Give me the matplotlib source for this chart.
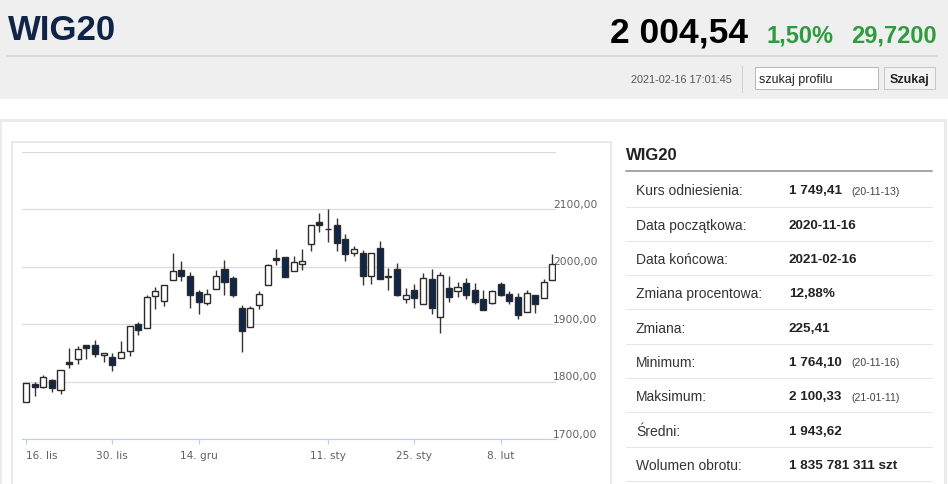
import numpy as np
import matplotlib
matplotlib.use("Agg")
import matplotlib.pyplot as plt
from matplotlib.patches import Rectangle

plt.rcParams['font.family'] = ['Liberation Sans', 'DejaVu Sans']

W, H = 948, 485
PX = 0.72  # points per pixel at dpi 100

# ── Data (WIG20 daily OHLC, 2020-11-16 .. 2021-02-16) ───────────
opens = [1765, 1796, 1791, 1802, 1786, 1834, 1840, 1864, 1864, 1846,
         1843, 1841, 1853, 1900, 1893, 1948, 1940, 1976, 1994, 1984,
         1955, 1937, 1961, 1996, 1980, 1928, 1894, 1933, 1968, 2014,
         2017, 1993, 2004, 2039, 2078, 2066, 2072, 2048, 2023, 2024,
         1984, 2032, 1983, 1996, 1944, 1960, 1934, 1979, 1913, 1963,
         1958, 1972, 1960, 1944, 1936, 1969, 1953, 1947, 1921, 1950,
         1946, 1977]
highs = [1798, 1800, 1812, 1805, 1820, 1859, 1861, 1864, 1872, 1850,
         1850, 1870, 1897, 1904, 1950, 1964, 1968, 2024, 2009, 1991,
         1960, 1961, 1994, 2012, 1983, 1933, 1931, 1958, 2005, 2031,
         2017, 2018, 2030, 2072, 2093, 2100.3, 2085, 2056, 2036, 2028,
         2023, 2045, 1998, 2006, 1963, 1969, 1988, 1996, 1991, 1984,
         1973, 1980, 1972, 1960, 1960, 1973, 1957, 1954, 1960, 1950,
         1979, 2022]
lows = [1764.1, 1774, 1788, 1782, 1779, 1823, 1831, 1840, 1843, 1834,
        1818, 1841, 1844, 1881, 1893, 1926, 1932, 1976, 1975, 1928,
        1917, 1933, 1961, 1950, 1947, 1851, 1894, 1926, 1968, 2003,
        1982, 1993, 1994, 2027, 2060, 2042, 2027, 2009, 2018, 1968,
        1970, 1979, 1960, 1948, 1936, 1927, 1934, 1917, 1885, 1938,
        1947, 1943, 1934, 1925, 1934, 1948, 1934, 1909, 1921, 1920,
        1946, 1977]
closes = [1797, 1791, 1808, 1788, 1820, 1831, 1857, 1859, 1848, 1850,
          1828, 1851, 1896, 1889, 1947, 1957, 1968, 1993, 1983, 1950,
          1939, 1953, 1983, 1973, 1951, 1888, 1928, 1952, 2003, 2012,
          1982, 2007, 2009, 2072, 2072, 2065, 2041, 2021, 2030, 1984,
          2023, 1979, 1982, 1951, 1951, 1945, 1980, 1928, 1985, 1947,
          1965, 1951, 1938, 1925, 1957, 1950, 1940, 1916, 1954, 1935,
          1973, 2004.5]

tick_idx = [0, 10, 20, 35, 45, 55]
tick_lbl = ['16. lis', '30. lis', '14. gru', '11. sty', '25. sty', '8. lut']
y_levels = [1700, 1800, 1900, 2000, 2100, 2200]

info_labels = ['Kurs odniesienia:', 'Data początkowa:', 'Data końcowa:',
               'Zmiana procentowa:', 'Zmiana:', 'Minimum:', 'Maksimum:',
               'Średni:', 'Wolumen obrotu:']
info_values = ['1 749,41', '2020-11-16', '2021-02-16', '12,88%', '225,41',
               '1 764,10', '2 100,33', '1 943,62', '1 835 781 311 szt']
info_dates = ['(20-11-13)', '', '', '', '', '(20-11-16)', '(21-01-11)', '', '']

# ── Page ────────────────────────────────────────────────────────
fig = plt.figure(figsize=(W / 100, H / 100), dpi=100)
page = fig.add_axes([0, 0, 1, 1])
page.set_xlim(0, W)
page.set_ylim(H, 0)
page.axis('off')

# header
page.add_patch(Rectangle((0, 0), W, 100, facecolor='#efefef', edgecolor='none'))
page.plot([7, 937], [57, 57], color='#d4d4d4', lw=1.5 * PX)
page.text(8, 40, 'WIG20', fontsize=25, fontweight='bold', color='#0f2447', va='baseline')
page.text(748, 42, '2 004,54', fontsize=25.5, fontweight='bold', color='black',
          ha='right', va='baseline')
page.text(767, 42, '1,50%', fontsize=17, fontweight='bold', color='#2e9b3f', va='baseline')
page.text(937, 42, '29,7200', fontsize=17, fontweight='bold', color='#2e9b3f',
          ha='right', va='baseline')
page.text(732, 80, '2021-02-16 17:01:45', fontsize=7.8, color='#555555', ha='right', va='center')
page.plot([742, 742], [67, 93], color='#d0d0d0', lw=PX)
page.add_patch(Rectangle((755, 68), 123, 22, facecolor='white', edgecolor='#b8b8b8', lw=PX))
page.text(759, 79.5, 'szukaj profilu', fontsize=9, color='#222222', va='center')
page.add_patch(Rectangle((884, 68), 51, 22, facecolor='#f2f2f2', edgecolor='#c8c8c8', lw=PX))
page.text(909.5, 79.5, 'Szukaj', fontsize=9, fontweight='bold', color='#222222',
          ha='center', va='center')

# content boxes
page.add_patch(Rectangle((-0.5, 120.5), 945.5, 400, facecolor='white',
                         edgecolor='#ebebeb', lw=3 * PX))
page.add_patch(Rectangle((12.5, 142.5), 598.5, 400, facecolor='white',
                         edgecolor='#e3e3e3', lw=1.5 * PX))

# info panel
page.text(626, 160, 'WIG20', fontsize=12, fontweight='bold', color='#222222', va='baseline')
page.plot([626, 932], [172, 172], color='#8c8c8c', lw=1.5 * PX)
for k, (lab, val, dt) in enumerate(zip(info_labels, info_values, info_dates)):
    yc = 191.5 + 34.3 * k
    page.text(636, yc, lab, fontsize=10, color='#333333', va='center')
    page.text(789, yc, val, fontsize=9.7, fontweight='bold', color='#222222', va='center')
    if dt:
        page.text(851, yc + 0.5, dt, fontsize=7.6, color='#444444', va='center')
    page.plot([626, 932], [207.5 + 34.3 * k] * 2, color='#e6e6e6', lw=PX)

# ── Candlestick chart ───────────────────────────────────────────
x0, x1, y0, y1 = 22, 556, 152.5, 440
step = 8.63
ax = fig.add_axes([x0 / W, 1 - y1 / H, (x1 - x0) / W, (y1 - y0) / H])
ax.set_facecolor('none')
ax.set_xlim((x0 - 26) / step, (x1 - 26) / step)
ax.set_ylim(1700, 2200)

o, hi, lo, c = map(np.array, (opens, highs, lows, closes))
idx = np.arange(len(o))
up = c >= o
ax.vlines(idx, lo, hi, color='#333333', lw=1.0, zorder=2)
ax.bar(idx, np.maximum(np.abs(c - o), 0.8), bottom=np.minimum(o, c), width=0.7,
       color=np.where(up, 'white', '#0e2749'), edgecolor='#2b2b2b', linewidth=1.0, zorder=3)

ax.set_axisbelow(True)
ax.set_yticks(y_levels)
ax.set_yticklabels([f'{v},00' for v in y_levels[:-1]] + [''])
ax.yaxis.grid(True, color='#dadada', lw=1.2 * PX)
ax.yaxis.tick_right()
ax.tick_params(axis='y', length=0, pad=-2.2, labelsize=7.7, labelcolor='#606060')
for t in ax.get_yticklabels():
    t.set_va('bottom')
    t.set_fontfamily('DejaVu Sans')

for s in ('top', 'left', 'right'):
    ax.spines[s].set_visible(False)
ax.spines['bottom'].set_color('#c0d0e0')
ax.spines['bottom'].set_linewidth(1.2 * PX)
ax.set_xticks(tick_idx)
ax.set_xticklabels(tick_lbl)
ax.tick_params(axis='x', length=5 * PX, width=1.2 * PX, color='#c0d0e0',
               labelsize=7.6, labelcolor='#606060', pad=4)
for t in ax.get_xticklabels():
    t.set_fontfamily('DejaVu Sans')
ax.get_xticklabels()[0].set_ha('left')
ax.get_xticklabels()[0].set_x(-0.25)

fig.savefig('out.png', dpi=100)
